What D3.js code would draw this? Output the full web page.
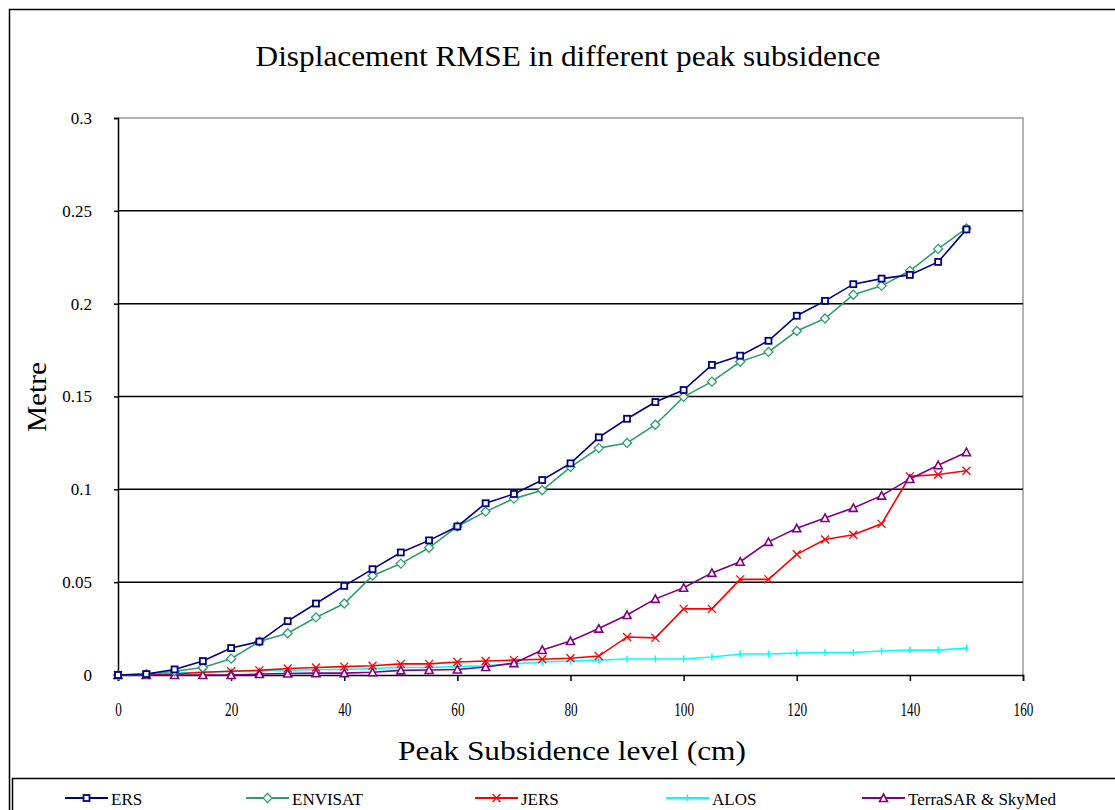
<!DOCTYPE html>
<html>
<head>
<meta charset="utf-8">
<script src="https://cdn.jsdelivr.net/npm/d3@7"></script>
<style>
  html, body { margin: 0; padding: 0; background: #fff; }
  svg { display: block; }
  text { font-family: "Liberation Serif", "DejaVu Serif", serif; fill: #000; }
</style>
</head>
<body>
<svg id="chart" width="1115" height="810"></svg>
<script>
// Peak subsidence levels (cm)
const levels = d3.range(0, 151, 5);

// Displacement RMSE (metre) per sensor
const ers = [0, 0.0005, 0.003, 0.0075, 0.0145, 0.018, 0.029, 0.0385, 0.048, 0.057, 0.066,
  0.0725, 0.080, 0.0925, 0.0975, 0.105, 0.114, 0.128, 0.138, 0.147, 0.1535,
  0.167, 0.172, 0.180, 0.1935, 0.2015, 0.2105, 0.2135, 0.2155, 0.2225, 0.240];
const envisat = [0, 0.0005, 0.002, 0.004, 0.0088, 0.018, 0.0225, 0.031, 0.0385, 0.0535, 0.060,
  0.0685, 0.080, 0.088, 0.095, 0.0995, 0.112, 0.1222, 0.125, 0.1348, 0.1498,
  0.158, 0.1687, 0.174, 0.1853, 0.192, 0.2048, 0.2096, 0.2177, 0.2295, 0.2405];
const jers = [0, 0, 0.0005, 0.0015, 0.002, 0.0025, 0.0035, 0.004, 0.0045, 0.005, 0.006,
  0.006, 0.007, 0.0075, 0.008, 0.0085, 0.009, 0.0102, 0.0205, 0.020, 0.0356,
  0.0356, 0.0515, 0.0515, 0.065, 0.073, 0.0755, 0.0814, 0.107, 0.108, 0.110];
const alos = [0, 0.0003, 0.001, 0.0015, 0.002, 0.0025, 0.0025, 0.003, 0.003, 0.0035, 0.004,
  0.004, 0.0045, 0.005, 0.006, 0.007, 0.0075, 0.008, 0.0086, 0.0086, 0.0086,
  0.0097, 0.0113, 0.0113, 0.0118, 0.0121, 0.0121, 0.0129, 0.0134, 0.0134, 0.0145];
const terrasar = [0, 0, 0, 0, 0, 0.0005, 0.0008, 0.001, 0.001, 0.0015, 0.0025,
  0.0027, 0.003, 0.0043, 0.0064, 0.0135, 0.0183, 0.025, 0.0323, 0.041, 0.047,
  0.055, 0.061, 0.0717, 0.079, 0.0846, 0.090, 0.0966, 0.1056, 0.113, 0.120];

const seriesNames = ["ERS", "ENVISAT", "JERS", "ALOS", "TerraSAR & SkyMed"];
const seriesValues = [ers, envisat, jers, alos, terrasar];
const seriesColors = ["#000080", "#2e9e6a", "#ff0000", "#00ffff", "#800080"];
const seriesMarkers = ["square", "diamond", "cross", "tick", "triangle"];

const xTicks = [0, 20, 40, 60, 80, 100, 120, 140, 160];
const yTicks = [0, 0.05, 0.1, 0.15, 0.2, 0.25, 0.3];

const svg = d3.select("#chart");
const plot = { left: 118, top: 118, right: 1023, bottom: 675 };

const x = d3.scaleLinear().domain([0, 160]).range([plot.left, plot.right]);
const y = d3.scaleLinear().domain([0, 0.3]).range([plot.bottom, plot.top]);

// Outer chart frame
svg.append("rect")
  .attr("x", 9.5).attr("y", 9.5).attr("width", 1120).attr("height", 820)
  .attr("fill", "none").attr("stroke", "#000").attr("stroke-width", 1.5);

// Title
svg.append("text")
  .attr("x", 568).attr("y", 66)
  .attr("text-anchor", "middle")
  .attr("font-size", 29)
  .attr("textLength", 625).attr("lengthAdjust", "spacingAndGlyphs")
  .text("Displacement RMSE in different peak subsidence");

// Plot area frame (grey top and right edges)
svg.append("path")
  .attr("d", `M${plot.left},${plot.top}H${plot.right}V${plot.bottom}`)
  .attr("fill", "none").attr("stroke", "#999").attr("stroke-width", 1.5);

// Horizontal gridlines
svg.append("g")
  .selectAll("line")
  .data(yTicks.filter(v => v > 0 && v < 0.3))
  .join("line")
  .attr("x1", plot.left).attr("x2", plot.right)
  .attr("y1", d => y(d)).attr("y2", d => y(d))
  .attr("stroke", "#000").attr("stroke-width", 1.5);

// Y axis
const yAxis = svg.append("g")
  .attr("transform", `translate(${plot.left},0)`)
  .call(d3.axisLeft(y).tickValues(yTicks).tickSize(4).tickPadding(22)
    .tickFormat(d => d3.format("")(+d.toFixed(2))));
yAxis.select(".domain").attr("stroke", "#000").attr("stroke-width", 1.5);
yAxis.selectAll(".tick line").attr("stroke", "#000").attr("stroke-width", 1.5);
yAxis.selectAll(".tick text").attr("font-size", 17).attr("font-family", "Liberation Serif").attr("fill", "#000");

// X axis
const xAxis = svg.append("g")
  .attr("transform", `translate(0,${plot.bottom})`)
  .call(d3.axisBottom(x).tickValues(xTicks).tickSize(6).tickPadding(22));
xAxis.select(".domain").attr("stroke", "#000").attr("stroke-width", 1.5);
xAxis.selectAll(".tick line").attr("stroke", "#000").attr("stroke-width", 1.5);
xAxis.selectAll(".tick").each(function(d) {
  d3.select(this).select("text")
    .attr("font-size", 19).attr("font-family", "Liberation Serif").attr("fill", "#000")
    .attr("textLength", String(d).length * 6.6).attr("lengthAdjust", "spacingAndGlyphs");
});

// Axis titles
svg.append("text")
  .attr("x", 572).attr("y", 760)
  .attr("text-anchor", "middle")
  .attr("font-size", 28)
  .attr("textLength", 348).attr("lengthAdjust", "spacingAndGlyphs")
  .text("Peak Subsidence level (cm)");

svg.append("text")
  .attr("transform", `translate(46,397) rotate(-90)`)
  .attr("text-anchor", "middle")
  .attr("font-size", 28)
  .attr("textLength", 70).attr("lengthAdjust", "spacingAndGlyphs")
  .text("Metre");

// Marker drawing
function drawMarker(sel, type, color) {
  if (type === "square") {
    sel.append("rect").attr("x", -3).attr("y", -3).attr("width", 6).attr("height", 6)
      .attr("fill", "#fff").attr("stroke", color).attr("stroke-width", 1.8);
  } else if (type === "diamond") {
    sel.append("path").attr("d", "M0,-4.5L4.5,0L0,4.5L-4.5,0Z")
      .attr("fill", "#fff").attr("stroke", color).attr("stroke-width", 1.3);
  } else if (type === "cross") {
    sel.append("path").attr("d", "M-4,-4L4,4M-4,4L4,-4")
      .attr("stroke", color).attr("stroke-width", 1.3);
  } else if (type === "tick") {
    sel.append("path").attr("d", "M0,-3.5V3.5")
      .attr("stroke", color).attr("stroke-width", 1.5);
  } else if (type === "triangle") {
    sel.append("path").attr("d", "M0,-4L4,3.5H-4Z")
      .attr("fill", "#fff").attr("stroke", color).attr("stroke-width", 1.6);
  }
}

const line = d3.line().x(d => x(d[0])).y(d => y(d[1]));

// Series lines and markers (drawn so ERS ends on top)
const order = [3, 2, 4, 1, 0];
order.forEach(i => {
  const pts = levels.map((lv, j) => [lv, seriesValues[i][j]]);
  const g = svg.append("g").attr("class", "series");
  g.append("path")
    .attr("d", line(pts))
    .attr("fill", "none")
    .attr("stroke", seriesColors[i])
    .attr("stroke-width", 1.6);
  g.selectAll("g.m")
    .data(pts)
    .join("g")
    .attr("class", "m")
    .attr("transform", d => `translate(${x(d[0])},${y(d[1])})`)
    .each(function() { drawMarker(d3.select(this), seriesMarkers[i], seriesColors[i]); });
});

// Legend box
svg.append("rect")
  .attr("x", 12.5).attr("y", 778.5).attr("width", 1120).attr("height", 60)
  .attr("fill", "#fff").attr("stroke", "#000").attr("stroke-width", 1.5);

const legendX = [65, 246, 475, 666, 862];
const legend = svg.append("g");
seriesNames.forEach((name, i) => {
  const g = legend.append("g").attr("transform", `translate(${legendX[i]},798)`);
  g.append("line").attr("x1", 0).attr("x2", 43).attr("y1", 0).attr("y2", 0)
    .attr("stroke", seriesColors[i]).attr("stroke-width", 1.8);
  const m = g.append("g").attr("transform", "translate(21.5,0)");
  drawMarker(m, seriesMarkers[i], seriesColors[i]);
  g.append("text").attr("x", 46).attr("y", 7)
    .attr("font-size", 17)
    .text(name);
});
</script>
</body>
</html>
